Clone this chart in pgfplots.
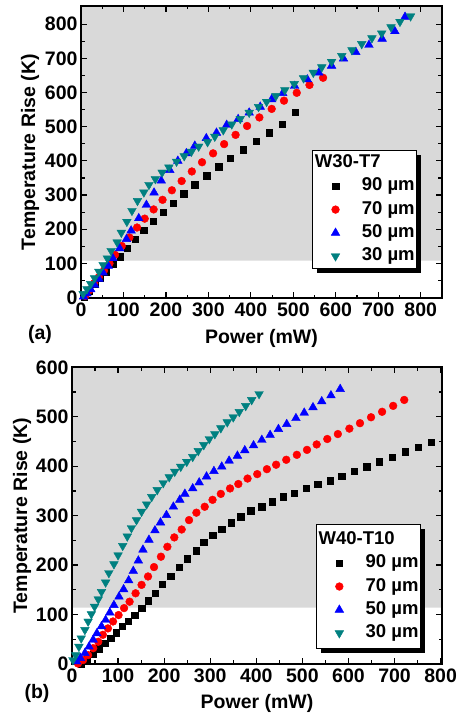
\documentclass[border=0pt]{standalone}
\usepackage{fontspec}
\setmainfont{Liberation Sans}
\usepackage{pgfplots}
\pgfplotsset{compat=1.18}
\usetikzlibrary{shadows}
\definecolor{bggray}{HTML}{D9D9D9}
\definecolor{dteal}{HTML}{008080}

\pgfplotsset{
  panel/.style={
    scale only axis, axis on top,
    tick align=inside,
    major tick length=6pt, minor tick length=3.5pt,
    tick style={black, line width=1.2pt},
    axis line style={line width=1.8pt},
    minor x tick num=1, minor y tick num=1,
    /pgf/number format/assume math mode=true,
    tick label style={font=\fontsize{19.5}{22}\selectfont\bfseries},
    xticklabel style={yshift=-1.5pt},
    label style={font=\fontsize{19.5}{22}\selectfont\bfseries},
    xlabel={Power (mW)}, ylabel={Temperature Rise (K)},
    legend cell align=left,
    legend style={draw=black, line width=0.8pt, fill=white,
      font=\fontsize{18.5}{21}\selectfont\bfseries,
      inner xsep=2pt, column sep=22pt, row sep=6.3pt,
      nodes={inner sep=0pt, text height=13pt, text depth=4pt},
      drop shadow={shadow xshift=4.5pt, shadow yshift=-4.5pt, fill=black, opacity=1}},
    legend image code/.code={\path (-21pt,0pt) (4pt,0pt); \draw[##1] plot coordinates {(0pt,0pt)};},
  },
  s90/.style={only marks, mark=square*, mark size=3.2pt, black, line width=0.4pt},
  s70/.style={only marks, mark=*, mark size=3.9pt, red, line width=0.4pt},
  s50/.style={only marks, mark=triangle*, mark size=5pt, blue, line width=0.4pt},
  s30/.style={only marks, mark=triangle*, mark size=5pt, dteal, line width=0.4pt, mark options={rotate=180}},
}

\begin{document}
\begin{tikzpicture}
\path[use as bounding box] (0,0) rectangle (466pt,719pt);

% (a) W30-T7
\begin{axis}[panel,
  at={(81pt,420.7pt)}, anchor=south west,
  width=361pt, height=292.3pt,
  xmin=0, xmax=850, ymin=-2, ymax=853,
  xtick={0,100,...,800}, ytick={0,100,...,800},
  xlabel style={at={(axis description cs:0.5,-0.1368)}, anchor=center},
  ylabel style={at={(axis description cs:-0.1413,0.5)}, anchor=center},
  legend style={at={(rel axis cs:0.931,0.1002)}, anchor=south east, inner ysep=3.9pt},
]
\addplot[fill=bggray, draw=none, forget plot] coordinates {(0,108)(850,108)(850,853)(0,853)(0,108)};
\addlegendimage{empty legend}
\addlegendentry{\hspace*{-47pt}W30-T7}
\addplot[s90] coordinates {
  (8,3)(20,20)(34,40)(45,56)(59,76)(75,97)(92,120)(109,144)(128,171)(148,198)
  (170,224)(193,250)(217,277)(242,304)(268,330)(296,357)(324,383)(352,408)
  (382,433)(412,458)(443,482)(474,507)(504,543)
};
\addlegendentry{90 µm}
\addplot[s70] coordinates {
  (10,5)(20,22)(31,42)(42,60)(54,79)(67,100)(80,125)(96,151)(114,176)(132,205)
  (150,231)(171,258)(192,286)(214,314)(237,341)(261,369)(285,396)(311,422)
  (337,449)(364,476)(391,502)(420,527)(449,552)(478,576)(508,599)(538,622)(570,643)
};
\addlegendentry{70 µm}
\addplot[s50] coordinates {
  (6,3)(14,12)(23,24)(32,37)(42,55)(52,73)(64,93)(75,115)(91,144)(107,171)
  (118,196)(136,232)(154,271)(172,307)(189,342)(209,373)(228,400)(248,422)
  (268,444)(295,466)(319,482)(343,505)(370,522)(396,541)(422,558)(449,580)
  (475,598)(503,619)(533,638)(560,658)(590,678)(618,699)(647,718)(678,739)
  (709,757)(739,779)(763,821)
};
\addlegendentry{50 µm}
\addplot[s30] coordinates {
  (5,11)(14,25)(23,40)(32,57)(42,76)(52,96)(62,115)(71,137)(85,162)(95,190)
  (108,222)(120,254)(133,283)(148,308)(160,330)(175,347)(191,366)(207,381)
  (225,398)(243,414)(260,427)(277,442)(298,455)(315,471)(335,490)(355,507)
  (375,523)(396,541)(418,558)(437,573)(459,590)(480,607)(502,625)(524,642)
  (547,658)(567,674)(590,690)(614,707)(638,724)(661,742)(685,759)(708,773)
  (730,791)(751,807)(776,823)
};
\addlegendentry{30 µm}
\end{axis}

% (b) W40-T10
\begin{axis}[panel,
  at={(72pt,55pt)}, anchor=south west,
  width=370pt, height=296.7pt,
  xmin=0, xmax=803, ymin=0, ymax=600,
  xtick={0,100,...,800}, ytick={0,100,...,600},
  xlabel style={at={(axis description cs:0.5,-0.1323)}, anchor=center},
  ylabel style={at={(axis description cs:-0.135,0.5)}, anchor=center},
  legend style={at={(rel axis cs:0.943,0.0505)}, anchor=south east, inner ysep=7pt},
]
\addplot[fill=bggray, draw=none, forget plot] coordinates {(0,114)(803,114)(803,600)(0,600)(0,114)};
\addlegendimage{empty legend}
\addlegendentry{\hspace*{-47pt}W40-T10}
\addplot[s90] coordinates {
  (20,0)(33,9)(46,20)(59,31)(71,42)(84,52)(96,63)(109,76)(122,86)(136,99)
  (151,113)(166,128)(180,143)(196,161)(214,178)(232,196)(250,213)(269,229)
  (286,246)(305,260)(325,273)(346,286)(366,298)(388,310)(412,318)(435,328)
  (459,338)(482,346)(508,355)(533,363)(560,371)(585,380)(612,390)(640,399)
  (667,409)(695,418)(723,429)(751,438)(780,449)
};
\addlegendentry{90 µm}
\addplot[s70] coordinates {
  (13,1)(24,8)(35,18)(46,32)(57,45)(67,59)(78,72)(89,86)(101,99)(113,113)
  (125,126)(138,143)(151,160)(165,177)(178,196)(193,217)(207,237)(222,256)
  (238,272)(254,291)(270,306)(288,318)(305,332)(323,344)(343,355)(361,364)
  (381,375)(402,384)(423,394)(443,403)(465,413)(488,423)(510,433)(531,444)
  (554,455)(577,465)(602,476)(625,487)(649,499)(673,510)(697,522)(721,534)
};
\addlegendentry{70 µm}
\addplot[s50] coordinates {
  (10,5)(18,12)(28,22)(37,35)(46,49)(54,62)(64,76)(73,89)(82,104)(91,119)
  (102,136)(112,151)(123,169)(133,188)(144,209)(154,231)(167,251)(180,270)
  (192,286)(205,301)(220,318)(234,332)(245,344)(262,355)(276,367)(292,379)
  (308,390)(325,399)(341,411)(359,421)(375,432)(394,442)(412,453)(430,463)
  (448,475)(466,485)(486,497)(504,508)(523,519)(542,531)(562,543)(582,556)
};
\addlegendentry{50 µm}
\addplot[s30] coordinates {
  (2,8)(8,18)(15,35)(20,52)(28,69)(35,86)(42,101)(49,116)(57,131)(64,146)
  (73,165)(80,184)(91,202)(100,220)(110,239)(120,258)(129,275)(140,291)
  (151,308)(162,323)(173,338)(185,352)(198,366)(211,378)(223,389)(236,399)
  (249,409)(262,419)(274,431)(286,443)(298,455)(310,465)(323,477)(337,489)
  (350,499)(363,510)(377,522)(390,534)(406,546)
};
\addlegendentry{30 µm}
\end{axis}

\node[font=\fontsize{19.5}{22}\selectfont\bfseries] at (40pt,385pt) {(a)};
\node[font=\fontsize{19.5}{22}\selectfont\bfseries] at (37pt,25.7pt) {(b)};
\end{tikzpicture}
\end{document}
